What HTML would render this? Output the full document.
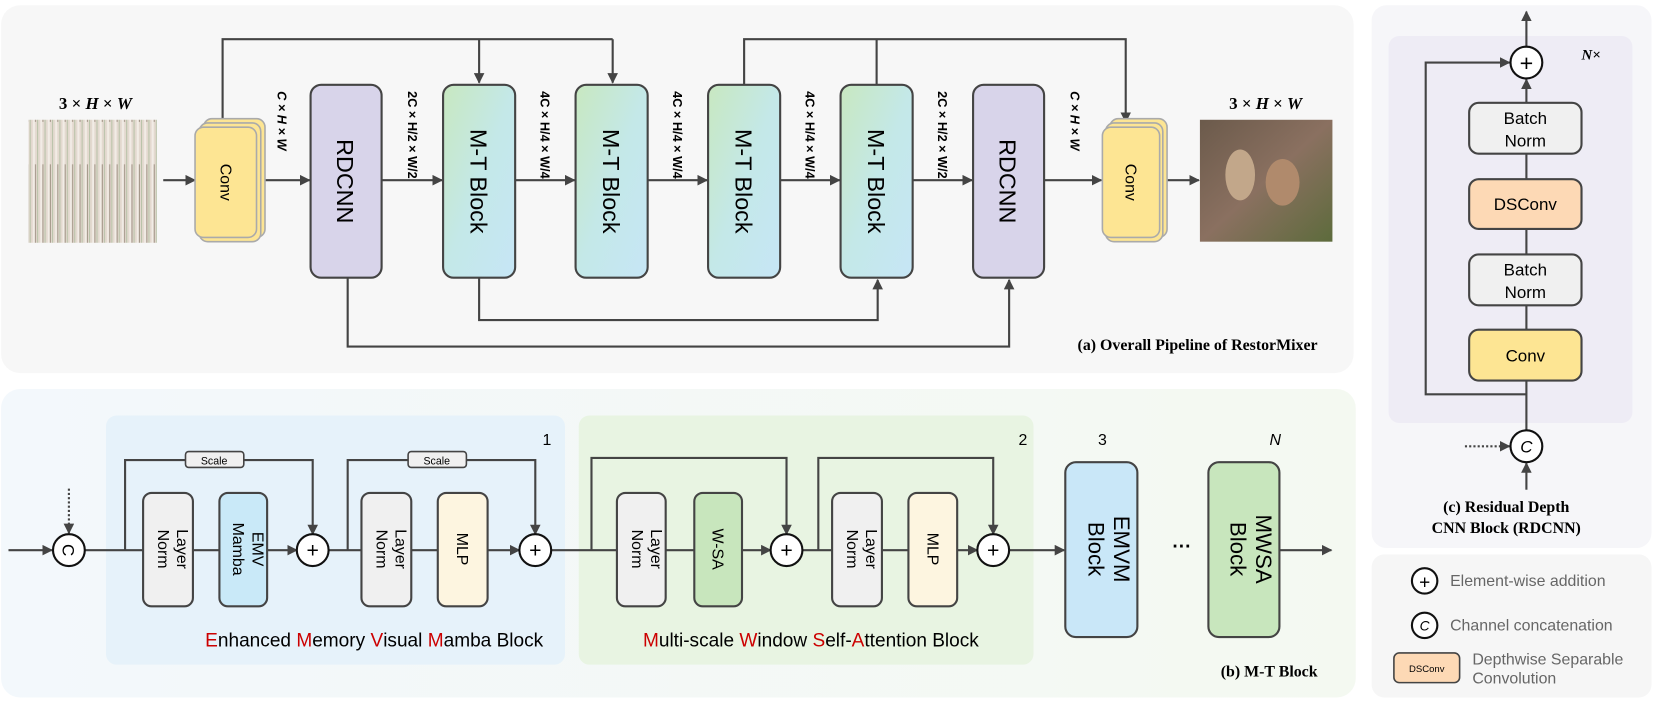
<!DOCTYPE html>
<html><head><meta charset="utf-8"><style>
html,body{margin:0;padding:0;background:#fff;}
svg{display:block;}
text{font-family:"Liberation Sans",sans-serif;}
.serif{font-family:"Liberation Serif",serif;}
</style></head><body>
<svg width="1661" height="701" viewBox="0 0 1661 701" xmlns="http://www.w3.org/2000/svg">
<defs>
<marker id="a" markerWidth="10" markerHeight="10" refX="9" refY="5" orient="auto" markerUnits="userSpaceOnUse"><path d="M0,0 L10,5 L0,10 z" fill="#444"/></marker>
<linearGradient id="mt" x1="0" y1="0" x2="1" y2="1"><stop offset="0" stop-color="#c8e8c0"/><stop offset="0.5" stop-color="#c4e8e8"/><stop offset="1" stop-color="#c6e6f6"/></linearGradient>
<linearGradient id="bg2" x1="0" y1="0" x2="1" y2="0"><stop offset="0" stop-color="#f3f8fc"/><stop offset="1" stop-color="#f4f9f1"/></linearGradient>
<pattern id="reed" width="7" height="115" patternUnits="userSpaceOnUse"><rect width="7" height="115" fill="#ddd0c4"/><rect x="0" width="1" height="115" fill="#a8b494"/><rect x="3" width="2" height="115" fill="#efe8e0"/><rect x="5" y="40" width="1" height="75" fill="#8a7a68"/></pattern>
<linearGradient id="ot" x1="0" y1="0" x2="1" y2="1"><stop offset="0" stop-color="#6b5a4b"/><stop offset="0.5" stop-color="#8a7060"/><stop offset="1" stop-color="#5d6b3c"/></linearGradient>
</defs>
<g transform="scale(1.06)">
<!-- panel backgrounds -->
<rect x="1" y="5" width="1276" height="347" rx="18" fill="#f7f7f7"/>
<rect x="1" y="367" width="1278" height="291" rx="18" fill="url(#bg2)"/>
<rect x="1294" y="5" width="264" height="512" rx="14" fill="#f6f6f9"/>
<rect x="1294" y="523" width="264" height="135" rx="12" fill="#f6f6f6"/>

<!-- ===== (a) ===== -->
<g stroke="#444" stroke-width="2" fill="none">
<polyline points="210,118 210,37 578,37"/>
<line x1="452" y1="37" x2="452" y2="78" marker-end="url(#a)"/>
<line x1="578" y1="37" x2="578" y2="78" marker-end="url(#a)"/>
<polyline points="702,80 702,37 1062,37 1062,115" marker-end="url(#a)"/>
<line x1="827" y1="80" x2="827" y2="37"/>
<polyline points="452,262 452,302 828,302 828,264" marker-end="url(#a)"/>
<polyline points="328,262 328,327 952,327 952,264" marker-end="url(#a)"/>
<line x1="154" y1="170" x2="184" y2="170" marker-end="url(#a)"/>
<line x1="245" y1="170" x2="292" y2="170" marker-end="url(#a)"/>
<line x1="360" y1="170" x2="417" y2="170" marker-end="url(#a)"/>
<line x1="486" y1="170" x2="542" y2="170" marker-end="url(#a)"/>
<line x1="611" y1="170" x2="667" y2="170" marker-end="url(#a)"/>
<line x1="736" y1="170" x2="792" y2="170" marker-end="url(#a)"/>
<line x1="861" y1="170" x2="917" y2="170" marker-end="url(#a)"/>
<line x1="985" y1="170" x2="1039" y2="170" marker-end="url(#a)"/>
<line x1="1092" y1="170" x2="1131" y2="170" marker-end="url(#a)"/>
</g>
<rect x="27" y="113" width="121" height="116" fill="url(#reed)"/>
<rect x="27" y="113" width="121" height="116" fill="#fff" opacity="0.2"/>
<rect x="1132" y="113" width="125" height="115" fill="url(#ot)"/>
<ellipse cx="1170" cy="165" rx="14" ry="24" fill="#c2a78a"/>
<ellipse cx="1210" cy="172" rx="16" ry="22" fill="#b08a6c"/>
<text x="90" y="103" text-anchor="middle" class="serif" font-size="16" font-weight="bold">3 × <tspan font-style="italic">H</tspan> × <tspan font-style="italic">W</tspan></text>
<text x="1194" y="103" text-anchor="middle" class="serif" font-size="16" font-weight="bold">3 × <tspan font-style="italic">H</tspan> × <tspan font-style="italic">W</tspan></text>
<!-- conv stacks -->
<g stroke="#aaa" stroke-width="1.5" fill="#fde593">
<rect x="192" y="112" width="58" height="112" rx="8"/><rect x="188" y="116" width="58" height="112" rx="8"/><rect x="184" y="120" width="58" height="104" rx="8"/>
<rect x="1047" y="112" width="54" height="112" rx="8"/><rect x="1043" y="116" width="54" height="112" rx="8"/><rect x="1040" y="120" width="54" height="104" rx="8"/>
</g>
<text transform="translate(213,172) rotate(90)" text-anchor="middle" font-size="15" dy="5">Conv</text>
<text transform="translate(1067,172) rotate(90)" text-anchor="middle" font-size="15" dy="5">Conv</text>
<g stroke="#444" stroke-width="2">
<rect x="293" y="80" width="67" height="182" rx="10" fill="#d8d4ea"/>
<rect x="918" y="80" width="67" height="182" rx="10" fill="#d8d4ea"/>
<rect x="418" y="80" width="68" height="182" rx="10" fill="url(#mt)"/>
<rect x="543" y="80" width="68" height="182" rx="10" fill="url(#mt)"/>
<rect x="668" y="80" width="68" height="182" rx="10" fill="url(#mt)"/>
<rect x="793" y="80" width="68" height="182" rx="10" fill="url(#mt)"/>
</g>
<g font-size="22" text-anchor="middle">
<text transform="translate(326,171) rotate(90)" dy="8">RDCNN</text>
<text transform="translate(951,171) rotate(90)" dy="8">RDCNN</text>
<text transform="translate(452,171) rotate(90)" dy="8">M-T Block</text>
<text transform="translate(577,171) rotate(90)" dy="8">M-T Block</text>
<text transform="translate(702,171) rotate(90)" dy="8">M-T Block</text>
<text transform="translate(827,171) rotate(90)" dy="8">M-T Block</text>
</g>
<g class="serif" font-size="12" font-weight="bold" text-anchor="start">
<text transform="translate(262,86) rotate(90)" font-style="italic">C × H × W</text>
<text transform="translate(385,86) rotate(90)">2C × H/2 × W/2</text>
<text transform="translate(510,86) rotate(90)">4C × H/4 × W/4</text>
<text transform="translate(635,86) rotate(90)">4C × H/4 × W/4</text>
<text transform="translate(760,86) rotate(90)">4C × H/4 × W/4</text>
<text transform="translate(885,86) rotate(90)">2C × H/2 × W/2</text>
<text transform="translate(1010,86) rotate(90)" font-style="italic">C × H × W</text>
</g>
<text x="1243" y="330" text-anchor="end" class="serif" font-size="15" font-weight="bold">(a) Overall Pipeline of RestorMixer</text>

<!-- ===== (b) ===== -->
<rect x="100" y="392" width="433" height="235" rx="10" fill="#e6f2fa"/>
<rect x="546" y="392" width="429" height="235" rx="10" fill="#e8f4e2"/>
<g stroke="#444" stroke-width="2" fill="none">
<line x1="8" y1="519" x2="49" y2="519" marker-end="url(#a)"/>
<line x1="65" y1="461" x2="65" y2="503" stroke-dasharray="2,2" marker-end="url(#a)"/>
<line x1="80" y1="519" x2="280" y2="519" marker-end="url(#a)"/>
<line x1="309" y1="519" x2="490" y2="519" marker-end="url(#a)"/>
<line x1="519" y1="519" x2="727" y2="519" marker-end="url(#a)"/>
<line x1="756" y1="519" x2="922" y2="519" marker-end="url(#a)"/>
<line x1="951" y1="519" x2="1004" y2="519" marker-end="url(#a)"/>
<line x1="1207" y1="519" x2="1256" y2="519" marker-end="url(#a)"/>
<polyline points="118,519 118,434 295,434 295,504" marker-end="url(#a)"/>
<polyline points="328,519 328,434 505,434 505,504" marker-end="url(#a)"/>
<polyline points="558,519 558,432 742,432 742,504" marker-end="url(#a)"/>
<polyline points="772,519 772,432 937,432 937,504" marker-end="url(#a)"/>
</g>
<g stroke="#444" stroke-width="1.5" fill="#f0f0f0">
<rect x="175" y="426" width="55" height="15" rx="3"/><rect x="385" y="426" width="55" height="15" rx="3"/>
</g>
<text x="202" y="438" text-anchor="middle" font-size="10">Scale</text>
<text x="412" y="438" text-anchor="middle" font-size="10">Scale</text>
<g stroke="#444" stroke-width="2">
<rect x="135" y="465" width="47" height="107" rx="8" fill="#f0f0f0"/>
<rect x="207" y="465" width="45" height="107" rx="8" fill="#c9e9f8"/>
<rect x="341" y="465" width="47" height="107" rx="8" fill="#f0f0f0"/>
<rect x="413" y="465" width="47" height="107" rx="8" fill="#fdf5e0"/>
<rect x="582" y="465" width="46" height="107" rx="8" fill="#f0f0f0"/>
<rect x="655" y="465" width="45" height="107" rx="8" fill="#c8e6bd"/>
<rect x="785" y="465" width="47" height="107" rx="8" fill="#f0f0f0"/>
<rect x="857" y="465" width="46" height="107" rx="8" fill="#fdf5e0"/>
<rect x="1005" y="436" width="68" height="165" rx="10" fill="#c9e7f8"/>
<rect x="1140" y="436" width="67" height="165" rx="10" fill="#c8e6bd"/>
</g>
<g fill="#fff" stroke="#111" stroke-width="2">
<circle cx="65" cy="519" r="15"/><circle cx="295" cy="519" r="15"/><circle cx="505" cy="519" r="15"/><circle cx="742" cy="519" r="15"/><circle cx="937" cy="519" r="15"/>
</g>
<g font-size="20" text-anchor="middle"><text x="295" y="526">+</text><text x="505" y="526">+</text><text x="742" y="526">+</text><text x="937" y="526">+</text></g>
<text transform="translate(65,519) rotate(90)" text-anchor="middle" font-size="16" dy="6">C</text>
<g font-size="15" text-anchor="middle">
<text transform="translate(158,518) rotate(90)"><tspan x="0" dy="-9">Layer</tspan><tspan x="0" dy="18">Norm</tspan></text>
<text transform="translate(229,518) rotate(90)"><tspan x="0" dy="-9">EMV</tspan><tspan x="0" dy="18">Mamba</tspan></text>
<text transform="translate(364,518) rotate(90)"><tspan x="0" dy="-9">Layer</tspan><tspan x="0" dy="18">Norm</tspan></text>
<text transform="translate(436,518) rotate(90)" dy="5">MLP</text>
<text transform="translate(605,518) rotate(90)"><tspan x="0" dy="-9">Layer</tspan><tspan x="0" dy="18">Norm</tspan></text>
<text transform="translate(677,518) rotate(90)" dy="5">W-SA</text>
<text transform="translate(808,518) rotate(90)"><tspan x="0" dy="-9">Layer</tspan><tspan x="0" dy="18">Norm</tspan></text>
<text transform="translate(880,518) rotate(90)" dy="5">MLP</text>
</g>
<g font-size="21" text-anchor="middle">
<text transform="translate(1039,518) rotate(90)"><tspan x="0" dy="-12">EMVM</tspan><tspan x="0" dy="24">Block</tspan></text>
<text transform="translate(1173,518) rotate(90)"><tspan x="0" dy="-12">MWSA</tspan><tspan x="0" dy="24">Block</tspan></text>
</g>
<text x="1115" y="521" text-anchor="middle" font-size="18" font-weight="bold">···</text>
<g class="serif" font-size="15" text-anchor="middle"><text x="516" y="420">1</text><text x="965" y="420">2</text><text x="1040" y="420">3</text><text x="1203" y="420" font-style="italic">N</text></g>
<text x="353" y="610" text-anchor="middle" font-size="18"><tspan fill="#c00">E</tspan>nhanced <tspan fill="#c00">M</tspan>emory <tspan fill="#c00">V</tspan>isual <tspan fill="#c00">M</tspan>amba Block</text>
<text x="765" y="610" text-anchor="middle" font-size="18"><tspan fill="#c00">M</tspan>ulti-scale <tspan fill="#c00">W</tspan>indow <tspan fill="#c00">S</tspan>elf-<tspan fill="#c00">A</tspan>ttention Block</text>
<text x="1243" y="638" text-anchor="end" class="serif" font-size="15" font-weight="bold">(b) M-T Block</text>

<!-- ===== (c) ===== -->
<rect x="1310" y="34" width="230" height="365" rx="10" fill="#eeecf5"/>
<g stroke="#444" stroke-width="2" fill="none">
<line x1="1440" y1="44" x2="1440" y2="11" marker-end="url(#a)"/>
<line x1="1440" y1="97" x2="1440" y2="75" marker-end="url(#a)"/>
<line x1="1440" y1="145" x2="1440" y2="169"/>
<line x1="1440" y1="216" x2="1440" y2="240"/>
<line x1="1440" y1="288" x2="1440" y2="311"/>
<line x1="1440" y1="359" x2="1440" y2="406"/>
<polyline points="1440,372 1345,372 1345,59 1424,59" marker-end="url(#a)"/>
<line x1="1382" y1="421" x2="1424" y2="421" stroke-dasharray="2,2" marker-end="url(#a)"/>
<line x1="1440" y1="462" x2="1440" y2="437" marker-end="url(#a)"/>
</g>
<g stroke="#444" stroke-width="2">
<rect x="1386" y="97" width="106" height="48" rx="9" fill="#f0f0f0"/>
<rect x="1386" y="169" width="106" height="47" rx="9" fill="#fdd9b5"/>
<rect x="1386" y="240" width="106" height="48" rx="9" fill="#f0f0f0"/>
<rect x="1386" y="311" width="106" height="48" rx="9" fill="#fde593"/>
</g>
<g fill="#fff" stroke="#111" stroke-width="2"><circle cx="1440" cy="59" r="15"/><circle cx="1440" cy="421" r="15"/></g>
<text x="1440" y="67" text-anchor="middle" font-size="22">+</text>
<text x="1440" y="427" text-anchor="middle" font-size="16" font-style="italic">C</text>
<g font-size="16" text-anchor="middle">
<text x="1439" y="117">Batch</text><text x="1439" y="138">Norm</text>
<text x="1439" y="198">DSConv</text>
<text x="1439" y="260">Batch</text><text x="1439" y="281">Norm</text>
<text x="1439" y="341">Conv</text>
</g>
<text x="1492" y="56" class="serif" font-size="14" font-style="italic" font-weight="bold">N×</text>
<text x="1421" y="483" text-anchor="middle" class="serif" font-size="15" font-weight="bold">(c) Residual Depth</text>
<text x="1421" y="503" text-anchor="middle" class="serif" font-size="15" font-weight="bold">CNN Block (RDCNN)</text>

<!-- legend -->
<g fill="#fff" stroke="#111" stroke-width="2"><circle cx="1344" cy="548" r="12"/><circle cx="1344" cy="590" r="12"/></g>
<text x="1344" y="555" text-anchor="middle" font-size="18">+</text>
<text x="1344" y="595" text-anchor="middle" font-size="13" font-style="italic">C</text>
<rect x="1315" y="616" width="62" height="28" rx="5" fill="#fdd9b5" stroke="#444" stroke-width="1.5"/>
<text x="1346" y="634" text-anchor="middle" font-size="9">DSConv</text>
<g font-size="15" fill="#666">
<text x="1368" y="553">Element-wise addition</text>
<text x="1368" y="595">Channel concatenation</text>
<text x="1389" y="627">Depthwise Separable</text>
<text x="1389" y="645">Convolution</text>
</g>
</g>
</svg>
</body></html>
